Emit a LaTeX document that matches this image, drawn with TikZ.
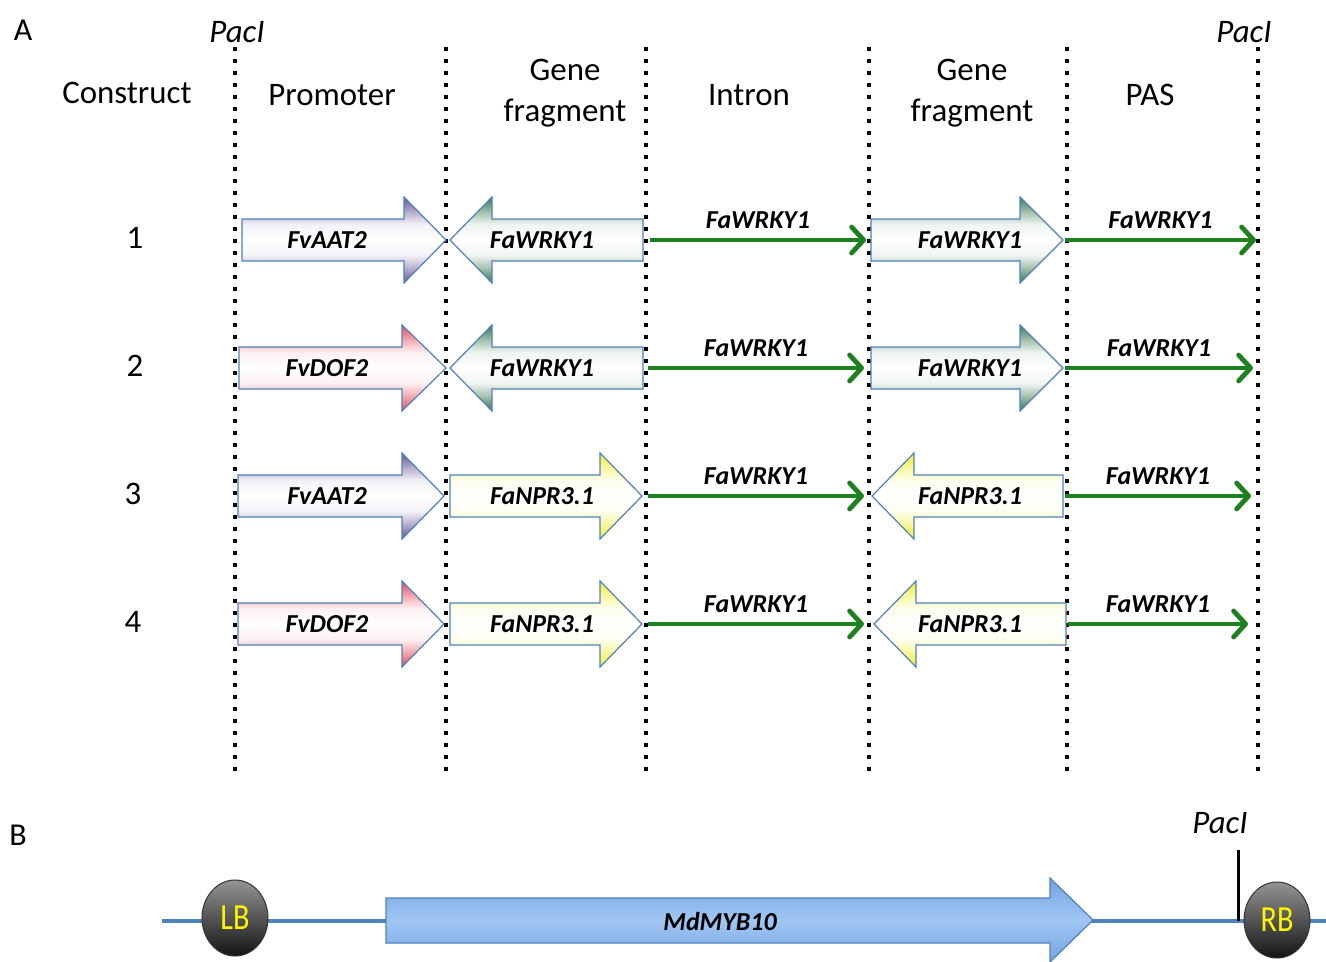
\documentclass[tikz,border=0pt]{standalone}
\usepackage{fontspec}
\usepackage{graphicx}
\setmainfont{Carlito}
\usetikzlibrary{arrows.meta,shapes.geometric}
\definecolor{outl}{RGB}{79,129,189}
\definecolor{purpC}{RGB}{100,84,150}
\definecolor{redC}{RGB}{232,72,92}
\definecolor{grnC}{RGB}{62,120,80}
\definecolor{yelC}{RGB}{238,238,50}
\definecolor{garrow}{RGB}{30,128,30}
\definecolor{mbA}{RGB}{118,163,224}
\definecolor{mbB}{RGB}{160,198,242}
\definecolor{lbtxt}{RGB}{255,245,0}
\colorlet{shc}{purpC}
\pgfdeclareverticalshading[shc]{arrsh}{100bp}{color(0bp)=(shc); color(25bp)=(shc); color(34bp)=(shc!45!white); color(41bp)=(shc!8!white); color(50bp)=(white); color(59bp)=(shc!8!white); color(66bp)=(shc!45!white); color(75bp)=(shc); color(100bp)=(shc)}
\tikzset{
  hdr/.style={font=\fontsize{33}{41}\selectfont, align=center, inner sep=0pt},
  smallhdr/.style={font=\fontsize{32}{36}\selectfont, inner sep=0pt},
  pac/.style={font=\fontsize{33}{36}\selectfont\itshape, inner sep=0pt},
  lab/.style={font=\fontsize{26}{30}\selectfont\bfseries\itshape, inner sep=0pt},
  sepline/.style={line width=3.5bp, dash pattern=on 3.5bp off 8.5bp, black},
  gconn/.style={draw=garrow, line width=4.8bp, -{Straight Barb[length=12bp,width=26bp,line cap=round,line join=round]}},
  blk/.style={draw=outl, line width=1.2bp},
  bline/.style={draw=outl, line width=4bp},
  border/.style={draw=black!80, line width=1bp, ellipse, minimum width=66bp, minimum height=76bp, inner sep=0pt, top color=black!42, bottom color=black!92, text=lbtxt, font=\fontsize{37}{40}\selectfont},
}
% right-pointing block arrow: name, x0, xhead, xtip, y, colour, text x, text
\newcommand\RArr[8]{%
  \colorlet{shc}{#6}%
  \path[blk, shading=arrsh]
    (#2,#5-21) -- (#3,#5-21) -- (#3,#5-43) -- (#4,#5) -- (#3,#5+43) -- (#3,#5+21) -- (#2,#5+21) -- cycle;
  \node[lab] (#1) at (#7,#5) {#8};}
% left-pointing block arrow: name, xtip, xhead, xend, y, colour, text x, text
\newcommand\LArr[8]{%
  \colorlet{shc}{#6}%
  \path[blk, shading=arrsh]
    (#4,#5-21) -- (#3,#5-21) -- (#3,#5-43) -- (#2,#5) -- (#3,#5+43) -- (#3,#5+21) -- (#4,#5+21) -- cycle;
  \node[lab] (#1) at (#7,#5) {#8};}
\begin{document}
\begin{tikzpicture}[x=1bp,y=-1bp]
\useasboundingbox (0,0) rectangle (1326,961);
% ---------- Part A ----------
\node[smallhdr] (A) at (23,30) {A};
\node[pac] (p1) at (237,32) {PacI};
\node[pac] (p2) at (1244,32) {PacI};
\foreach \x in {235,446,646,869,1067,1258}
  \draw[sepline] (\x,47) -- (\x,776);
\node[hdr] (hc) at (127,93) {Construct};
\node[hdr] (hp) at (332,95) {Promoter};
\node[hdr] (hg1) at (565,93) {Gene\\fragment};
\node[hdr] (hi) at (749,95) {Intron};
\node[hdr] (hg2) at (972,93) {Gene\\fragment};
\node[hdr] (hs) at (1150,95) {PAS};
\node[hdr] (n1) at (135,238) {1};
\node[hdr] (n2) at (135,366) {2};
\node[hdr] (n3) at (133,494) {3};
\node[hdr] (n4) at (133,622) {4};
% row 1
\RArr{r1a}{242}{404}{446}{240}{purpC}{327}{FvAAT2}
\LArr{r1b}{450}{492}{643}{240}{grnC}{542}{FaWRKY1}
\RArr{r1c}{871}{1020}{1063}{240}{grnC}{970}{FaWRKY1}
\coordinate (g1a) at (650,240); \coordinate (g1b) at (866,240);
\coordinate (g1c) at (1065,240); \coordinate (g1d) at (1256,240);
\draw[gconn] (g1a) -- node[lab, above=9bp] (t1a) {FaWRKY1} (g1b);
\draw[gconn] (g1c) -- node[lab, above=9bp] (t1b) {FaWRKY1} (g1d);
% row 2
\RArr{r2a}{239}{402}{446}{368}{redC}{327}{FvDOF2}
\LArr{r2b}{450}{492}{643}{368}{grnC}{542}{FaWRKY1}
\RArr{r2c}{871}{1020}{1063}{368}{grnC}{970}{FaWRKY1}
\coordinate (g2a) at (648,368); \coordinate (g2b) at (864,368);
\coordinate (g2c) at (1065,368); \coordinate (g2d) at (1253,368);
\draw[gconn] (g2a) -- node[lab, above=9bp] (t2a) {FaWRKY1} (g2b);
\draw[gconn] (g2c) -- node[lab, above=9bp] (t2b) {FaWRKY1} (g2d);
% row 3
\RArr{r3a}{238}{402}{444}{496}{purpC}{327}{FvAAT2}
\RArr{r3b}{450}{600}{642}{496}{yelC}{542}{FaNPR3.1}
\LArr{r3c}{872}{914}{1063}{496}{yelC}{970}{FaNPR3.1}
\coordinate (g3a) at (648,496); \coordinate (g3b) at (864,496);
\coordinate (g3c) at (1065,496); \coordinate (g3d) at (1251,496);
\draw[gconn] (g3a) -- node[lab, above=9bp] (t3a) {FaWRKY1} (g3b);
\draw[gconn] (g3c) -- node[lab, above=9bp] (t3b) {FaWRKY1} (g3d);
% row 4
\RArr{r4a}{238}{402}{444}{624}{redC}{327}{FvDOF2}
\RArr{r4b}{450}{600}{642}{624}{yelC}{542}{FaNPR3.1}
\LArr{r4c}{874}{916}{1066}{624}{yelC}{970}{FaNPR3.1}
\coordinate (g4a) at (648,624); \coordinate (g4b) at (864,624);
\coordinate (g4c) at (1068,624); \coordinate (g4d) at (1248,624);
\draw[gconn] (g4a) -- node[lab, above=9bp] (t4a) {FaWRKY1} (g4b);
\draw[gconn] (g4c) -- node[lab, above=9bp] (t4b) {FaWRKY1} (g4d);
% ---------- Part B ----------
\node[smallhdr] (B) at (18,835) {B};
\coordinate (bl0) at (162,921); \coordinate (bl1) at (1330,921);
\draw[bline] (bl0) -- (bl1);
\path[blk, top color=mbA, bottom color=mbA, middle color=mbB]
  (386,898) -- (1050,898) -- (1050,878) -- (1093,920) -- (1050,962) -- (1050,943) -- (386,943) -- cycle;
\node[lab] (myb) at (720,921) {MdMYB10};
\node[pac] (p3) at (1220,823) {PacI};
\coordinate (pc0) at (1238,850); \coordinate (pc1) at (1238,921);
\draw[line width=3bp, black] (pc0) -- (pc1);
\node[border] (lb) at (235,918) {\scalebox{0.82}[1]{LB}};
\node[border] (rb) at (1277,920) {\scalebox{0.82}[1]{RB}};
\end{tikzpicture}
\end{document}
